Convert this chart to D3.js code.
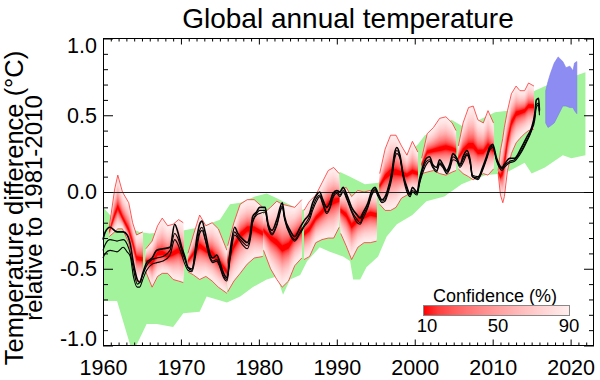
<!DOCTYPE html>
<html>
<head>
<meta charset="utf-8">
<script src="https://cdn.jsdelivr.net/npm/d3@7"></script>
<style>
  body { margin: 0; background: #fff; }
  svg text { font-family: "Liberation Sans", Arial, Helvetica, sans-serif; fill: #000; }
</style>
</head>
<body>
<svg id="chart"></svg>
<script>
  var width = 600;
  var height = 380;

  // observations (three datasets, smoothed)
  var obsYears = [1960.0, 1960.3, 1960.9, 1961.8, 1962.6, 1963.1, 1963.5, 1963.9, 1964.4, 1964.7,
    1965.1, 1965.6, 1966.3, 1966.9, 1967.7, 1968.6, 1969.2, 1969.6, 1970.1, 1970.5,
    1970.9, 1971.4, 1972.1, 1972.4, 1972.7, 1973.1, 1973.7, 1974.1, 1974.6, 1975.0,
    1975.4, 1975.9, 1976.3, 1976.9, 1977.3, 1978.0, 1978.5, 1978.9, 1979.2, 1979.7,
    1980.1, 1980.8, 1981.2, 1981.7, 1982.3, 1983.0, 1983.3, 1984.0, 1984.6, 1985.3,
    1985.9, 1986.5, 1986.9, 1987.4, 1987.8, 1988.2, 1988.7, 1989.1, 1989.5, 1990.0,
    1990.4, 1990.8, 1991.3, 1991.9, 1992.6, 1993.0, 1993.3, 1994.0, 1994.5, 1994.9,
    1995.3, 1995.8, 1996.2, 1996.5, 1997.1, 1997.4, 1997.7, 1998.1, 1998.5, 1999.0,
    1999.4, 1999.7, 2000.3, 2000.6, 2001.0, 2001.5, 2001.9, 2002.3, 2002.8, 2003.2,
    2003.6, 2004.1, 2004.5, 2004.9, 2005.4, 2005.8, 2006.2, 2006.7, 2007.1, 2007.4,
    2008.1, 2008.7, 2009.2, 2009.6, 2010.0, 2010.5, 2011.2, 2011.5, 2012.2, 2012.8,
    2013.7, 2014.4, 2015.0, 2015.4, 2015.6, 2015.9, 2016.0];
  var obsA = [-0.31, -0.26, -0.23, -0.26, -0.26, -0.28, -0.34, -0.46, -0.57, -0.59,
    -0.53, -0.46, -0.43, -0.38, -0.37, -0.36, -0.21, -0.26, -0.36, -0.42,
    -0.49, -0.51, -0.28, -0.21, -0.19, -0.26, -0.40, -0.43, -0.41, -0.46,
    -0.52, -0.56, -0.39, -0.23, -0.27, -0.31, -0.33, -0.27, -0.16, -0.13,
    -0.10, -0.10, -0.21, -0.25, -0.18, -0.07, -0.16, -0.25, -0.29, -0.23,
    -0.18, -0.14, -0.07, -0.02, 0.00, -0.05, -0.10, -0.07, -0.01, 0.01,
    0.00, 0.03, -0.02, -0.10, -0.15, -0.17, -0.14, -0.07, 0.01, 0.03,
    -0.01, -0.05, -0.03, 0.01, 0.14, 0.25, 0.29, 0.24, 0.12, 0.03,
    -0.01, 0.03, 0.00, 0.08, 0.16, 0.22, 0.23, 0.18, 0.16, 0.21,
    0.18, 0.14, 0.18, 0.25, 0.22, 0.18, 0.23, 0.27, 0.21, 0.10,
    0.09, 0.16, 0.23, 0.29, 0.31, 0.22, 0.16, 0.18, 0.22, 0.22,
    0.29, 0.36, 0.42, 0.51, 0.60, 0.61, 0.53];
  var obsB = [-0.38, -0.34, -0.31, -0.32, -0.31, -0.34, -0.40, -0.50, -0.60, -0.59,
    -0.54, -0.48, -0.44, -0.43, -0.42, -0.38, -0.27, -0.30, -0.38, -0.44,
    -0.49, -0.50, -0.32, -0.25, -0.23, -0.30, -0.42, -0.45, -0.44, -0.48,
    -0.54, -0.57, -0.42, -0.26, -0.29, -0.33, -0.35, -0.29, -0.19, -0.14,
    -0.12, -0.12, -0.22, -0.27, -0.21, -0.09, -0.17, -0.27, -0.31, -0.26,
    -0.21, -0.16, -0.10, -0.04, -0.02, -0.07, -0.13, -0.10, -0.03, 0.00,
    -0.02, 0.01, -0.04, -0.12, -0.18, -0.20, -0.16, -0.09, -0.01, 0.02,
    -0.02, -0.06, -0.05, 0.00, 0.12, 0.23, 0.27, 0.23, 0.11, 0.02,
    -0.02, 0.01, -0.01, 0.06, 0.14, 0.20, 0.21, 0.17, 0.14, 0.19,
    0.17, 0.13, 0.16, 0.23, 0.21, 0.17, 0.21, 0.25, 0.20, 0.11,
    0.10, 0.15, 0.22, 0.28, 0.30, 0.21, 0.15, 0.17, 0.20, 0.21,
    0.27, 0.34, 0.41, 0.49, 0.57, 0.58, 0.52];
  var obsC = [-0.43, -0.40, -0.38, -0.39, -0.36, -0.39, -0.42, -0.55, -0.62, -0.62,
    -0.57, -0.51, -0.47, -0.46, -0.45, -0.41, -0.31, -0.34, -0.41, -0.47,
    -0.51, -0.52, -0.35, -0.27, -0.25, -0.31, -0.43, -0.46, -0.45, -0.49,
    -0.55, -0.58, -0.44, -0.28, -0.30, -0.35, -0.37, -0.31, -0.20, -0.15,
    -0.14, -0.13, -0.23, -0.28, -0.22, -0.10, -0.18, -0.28, -0.32, -0.27,
    -0.22, -0.18, -0.12, -0.06, -0.03, -0.08, -0.14, -0.11, -0.04, -0.01,
    -0.03, 0.00, -0.05, -0.13, -0.20, -0.21, -0.18, -0.10, -0.02, 0.01,
    -0.03, -0.07, -0.06, -0.02, 0.10, 0.21, 0.25, 0.22, 0.10, 0.00,
    -0.03, 0.00, -0.02, 0.05, 0.12, 0.18, 0.20, 0.16, 0.13, 0.18,
    0.16, 0.12, 0.15, 0.21, 0.20, 0.16, 0.19, 0.24, 0.19, 0.10,
    0.08, 0.14, 0.21, 0.27, 0.29, 0.20, 0.14, 0.16, 0.19, 0.20,
    0.26, 0.33, 0.40, 0.47, 0.55, 0.57, 0.50];

  // green range (no-initialisation hindcasts)
  var greenTopYears = [1960.0, 1960.9, 1961.9, 1963.2, 1964.7, 1966.0, 1967.9, 1970.3, 1972.4, 1975.0,
    1976.3, 1977.6, 1979.5, 1981.0, 1982.3, 1984.6, 1985.3, 1986.5, 1987.4, 1989.1,
    1990.4, 1991.7, 1993.6, 1995.3, 1996.8, 1998.7, 2000.4, 2001.3, 2003.6, 2004.7,
    2006.4, 2008.3, 2010.3, 2011.9, 2013.5, 2015.4, 2017.6, 2019.6, 2021.9];
  var greenTop = [-0.10, -0.15, -0.19, -0.23, -0.26, -0.27, -0.26, -0.25, -0.23, -0.18,
    -0.08, -0.07, -0.03, -0.01, -0.04, -0.10, -0.12, -0.10, -0.03, 0.08,
    0.13, 0.10, 0.05, 0.06, 0.12, 0.24, 0.31, 0.37, 0.42, 0.47,
    0.42, 0.47, 0.52, 0.53, 0.60, 0.66, 0.71, 0.74, 0.78];
  var greenBotYears = [1960.0, 1961.8, 1963.8, 1965.6, 1966.9, 1969.0, 1970.3, 1972.4, 1973.3, 1975.9,
    1977.6, 1979.2, 1981.0, 1982.3, 1983.1, 1984.0, 1985.3, 1986.2, 1987.8, 1989.1,
    1990.8, 1991.7, 1992.1, 1993.0, 1993.8, 1995.3, 1996.4, 1997.7, 1999.7, 2001.5,
    2003.8, 2006.0, 2007.4, 2009.2, 2011.5, 2014.1, 2015.0, 2016.7, 2019.0, 2020.1, 2021.9];
  var greenBot = [-0.71, -0.71, -1.05, -0.86, -0.86, -0.88, -0.79, -0.78, -0.68, -0.72,
    -0.68, -0.62, -0.57, -0.55, -0.67, -0.57, -0.54, -0.45, -0.36, -0.39,
    -0.42, -0.45, -0.57, -0.57, -0.49, -0.42, -0.29, -0.21, -0.15, -0.06,
    -0.03, 0.05, 0.08, 0.11, 0.12, 0.19, 0.12, 0.16, 0.24, 0.22, 0.24];

  // initialised forecasts: 90% range (lo, hi) and central value (mid)
  var fc1960Years = [1960.8, 1961.5, 1961.9, 1962.5, 1963.3, 1963.8, 1964.3, 1965.1];
  var fc1960Hi = [-0.23, 0.02, 0.11, 0.00, -0.07, -0.20, -0.28, -0.26];
  var fc1960Mid = [-0.26, -0.15, -0.10, -0.17, -0.25, -0.33, -0.43, -0.44];
  var fc1960Lo = [-0.29, -0.26, -0.24, -0.24, -0.33, -0.46, -0.58, -0.58];

  var fc1965Years = [1965.5, 1966.3, 1967.0, 1967.6, 1968.3, 1969.0, 1969.7, 1970.3];
  var fc1965Hi = [-0.37, -0.32, -0.22, -0.17, -0.22, -0.21, -0.18, -0.20];
  var fc1965Mid = [-0.45, -0.46, -0.40, -0.40, -0.42, -0.40, -0.38, -0.41];
  var fc1965Lo = [-0.52, -0.62, -0.55, -0.53, -0.53, -0.57, -0.58, -0.59];

  var fc1970Years = [1970.9, 1971.6, 1972.4, 1973.2, 1974.0, 1974.8, 1975.9];
  var fc1970Hi = [-0.40, -0.28, -0.15, -0.22, -0.20, -0.24, -0.38];
  var fc1970Mid = [-0.45, -0.40, -0.35, -0.38, -0.40, -0.45, -0.52];
  var fc1970Lo = [-0.52, -0.54, -0.57, -0.55, -0.58, -0.62, -0.66];

  var fc1975Years = [1976.0, 1976.8, 1977.6, 1978.5, 1979.4, 1980.5];
  var fc1975Hi = [-0.35, -0.20, -0.08, -0.05, -0.05, -0.10];
  var fc1975Mid = [-0.45, -0.35, -0.28, -0.24, -0.24, -0.27];
  var fc1975Lo = [-0.65, -0.58, -0.53, -0.47, -0.43, -0.42];

  var fc1980Years = [1980.6, 1981.5, 1982.3, 1983.0, 1983.8, 1984.6, 1985.5];
  var fc1980Hi = [-0.14, -0.10, -0.06, -0.08, -0.09, -0.10, -0.05];
  var fc1980Mid = [-0.25, -0.30, -0.33, -0.37, -0.35, -0.29, -0.25];
  var fc1980Lo = [-0.38, -0.50, -0.57, -0.62, -0.58, -0.48, -0.43];

  var fc1985Years = [1985.8, 1986.5, 1987.3, 1988.1, 1988.9, 1989.6, 1990.3];
  var fc1985Hi = [-0.12, -0.06, -0.02, 0.06, 0.14, 0.16, 0.12];
  var fc1985Mid = [-0.27, -0.24, -0.17, -0.13, -0.08, -0.06, -0.05];
  var fc1985Lo = [-0.44, -0.42, -0.33, -0.31, -0.30, -0.30, -0.23];

  var fc1990Years = [1990.5, 1991.2, 1991.9, 1992.7, 1993.5, 1994.3, 1995.1];
  var fc1990Hi = [0.01, 0.03, -0.03, 0.01, 0.00, 0.01, 0.00];
  var fc1990Mid = [-0.12, -0.15, -0.22, -0.18, -0.16, -0.14, -0.15];
  var fc1990Lo = [-0.27, -0.35, -0.44, -0.36, -0.33, -0.33, -0.32];

  var fc1995Years = [1995.5, 1996.2, 1996.9, 1997.6, 1998.3, 1999.0, 1999.7, 2000.4];
  var fc1995Hi = [0.12, 0.28, 0.37, 0.37, 0.30, 0.24, 0.33, 0.26];
  var fc1995Mid = [0.04, 0.10, 0.13, 0.13, 0.12, 0.11, 0.13, 0.12];
  var fc1995Lo = [-0.08, -0.12, -0.12, -0.10, -0.04, -0.02, 0.00, 0.00];

  var fc2000Years = [2000.9, 2001.6, 2002.4, 2003.2, 2004.0, 2004.8, 2005.3];
  var fc2000Hi = [0.22, 0.38, 0.42, 0.48, 0.49, 0.45, 0.40];
  var fc2000Mid = [0.18, 0.26, 0.27, 0.28, 0.29, 0.28, 0.27];
  var fc2000Lo = [0.12, 0.13, 0.14, 0.12, 0.11, 0.13, 0.14];

  var fc2005Years = [2005.6, 2006.2, 2006.9, 2007.5, 2008.1, 2008.8, 2009.4, 2010.1];
  var fc2005Hi = [0.30, 0.45, 0.55, 0.56, 0.47, 0.45, 0.53, 0.45];
  var fc2005Mid = [0.22, 0.27, 0.30, 0.30, 0.26, 0.26, 0.30, 0.27];
  var fc2005Lo = [0.15, 0.12, 0.10, 0.08, 0.10, 0.12, 0.11, 0.15];

  var fc2010Years = [2010.7, 2011.0, 2011.3, 2011.5, 2011.9, 2012.4, 2013.0, 2013.5, 2014.1, 2014.6, 2015.3];
  var fc2010Hi = [0.14, 0.27, 0.35, 0.42, 0.53, 0.64, 0.69, 0.66, 0.66, 0.71, 0.69];
  var fc2010Mid = [0.13, 0.10, 0.13, 0.19, 0.33, 0.45, 0.51, 0.52, 0.53, 0.56, 0.56];
  var fc2010Lo = [0.12, -0.02, -0.07, -0.03, 0.14, 0.25, 0.32, 0.35, 0.38, 0.40, 0.41];

  // latest forecast range (blue)
  var blueYears = [2016.8, 2017.1, 2017.4, 2017.9, 2018.4, 2019.0, 2019.4, 2019.9, 2020.3, 2020.5, 2020.8];
  var blueHi = [0.66, 0.72, 0.77, 0.84, 0.88, 0.85, 0.81, 0.82, 0.79, 0.84, 0.85];
  var blueLo = [0.45, 0.42, 0.43, 0.45, 0.50, 0.56, 0.56, 0.55, 0.55, 0.53, 0.51];

  var yearTicks = [1960, 1970, 1980, 1990, 2000, 2010, 2020];
  var tempTicks = [-1.0, -0.5, 0.0, 0.5, 1.0];
  var confTicks = [10, 50, 90];

  var forecasts = [
    [fc1960Years, fc1960Lo, fc1960Mid, fc1960Hi],
    [fc1965Years, fc1965Lo, fc1965Mid, fc1965Hi],
    [fc1970Years, fc1970Lo, fc1970Mid, fc1970Hi],
    [fc1975Years, fc1975Lo, fc1975Mid, fc1975Hi],
    [fc1980Years, fc1980Lo, fc1980Mid, fc1980Hi],
    [fc1985Years, fc1985Lo, fc1985Mid, fc1985Hi],
    [fc1990Years, fc1990Lo, fc1990Mid, fc1990Hi],
    [fc1995Years, fc1995Lo, fc1995Mid, fc1995Hi],
    [fc2000Years, fc2000Lo, fc2000Mid, fc2000Hi],
    [fc2005Years, fc2005Lo, fc2005Mid, fc2005Hi],
    [fc2010Years, fc2010Lo, fc2010Mid, fc2010Hi]
  ].map(f => f[0].map((yr, i) => ({year: yr, lo: f[1][i], mid: f[2][i], hi: f[3][i]})));

  var svg = d3.select("#chart")
    .attr("width", width)
    .attr("height", height);

  var x = d3.scaleLinear().domain([1960, 2023]).range([103, 594]);
  var y = d3.scaleLinear().domain([-1, 1]).range([345.5, 38.5]);

  var confColor = d3.scaleLinear().domain([10, 90])
    .range(["#ff0000", "#ffeeee"])
    .interpolate(d3.interpolateRgb.gamma(1.7));

  // half width of a central c% interval of a normal, relative to the 90% one
  function erf(v) {
    var s = v < 0 ? -1 : 1;
    v = Math.abs(v);
    var t = 1 / (1 + 0.3275911 * v);
    var r = 1 - (((((1.061405429 * t - 1.453152027) * t) + 1.421413741) * t - 0.284496736) * t + 0.254829592) * t * Math.exp(-v * v);
    return s * r;
  }

  function zFor(c) {
    var a = 0, b = 6;
    for (var i = 0; i < 60; i++) {
      var m = (a + b) / 2;
      if (erf(m / Math.SQRT2) < c / 100) a = m; else b = m;
    }
    return (a + b) / 2;
  }
  var z90 = zFor(90);

  var defs = svg.append("defs");
  defs.append("clipPath").attr("id", "plotClip")
    .append("rect")
    .attr("x", x(1960)).attr("y", y(1))
    .attr("width", x(2023) - x(1960)).attr("height", y(-1) - y(1));

  var plot = svg.append("g").attr("clip-path", "url(#plotClip)");

  // green band
  var greenPts = greenTopYears.map((yr, i) => [yr, greenTop[i]])
    .concat(greenBotYears.map((yr, i) => [yr, greenBot[i]]).reverse());

  plot.append("path")
    .attr("d", d3.line().x(d => x(d[0])).y(d => y(d[1]))(greenPts) + "Z")
    .attr("fill", "#a2f39c")
    .attr("stroke", "none");

  // red forecasts shaded by confidence
  var levels = d3.range(90, 9, -2.5);

  forecasts.forEach(function(fc) {
    var g = plot.append("g");
    levels.forEach(function(c) {
      var f = zFor(c) / z90;
      g.append("path")
        .datum(fc)
        .attr("fill", confColor(c))
        .attr("d", d3.area()
          .x(d => x(d.year))
          .y0(d => y(d.mid - f * (d.mid - d.lo)))
          .y1(d => y(d.mid + f * (d.hi - d.mid))));
    });
    ["hi", "lo"].forEach(function(k) {
      g.append("path")
        .datum(fc)
        .attr("fill", "none")
        .attr("stroke", "#ff3030")
        .attr("stroke-width", 0.8)
        .attr("d", d3.line().x(d => x(d.year)).y(d => y(d[k])));
    });
  });

  // blue forecast range
  plot.append("path")
    .datum(blueYears.map((yr, i) => ({year: yr, lo: blueLo[i], hi: blueHi[i]})))
    .attr("fill", "#8c8cf3")
    .attr("stroke", "#7c7cee")
    .attr("stroke-width", 0.6)
    .attr("d", d3.area().x(d => x(d.year)).y0(d => y(d.lo)).y1(d => y(d.hi)));

  // zero line
  svg.append("line")
    .attr("x1", x(1960)).attr("x2", x(2023))
    .attr("y1", y(0) + 0.5).attr("y2", y(0) + 0.5)
    .attr("stroke", "#222")
    .attr("stroke-width", 1);

  // observations
  var obsLine = d3.line()
    .x((d, i) => x(obsYears[i]))
    .y(d => y(d))
    .curve(d3.curveMonotoneX);

  [[obsC, 1.1], [obsB, 1.1], [obsA, 1.6]].forEach(function(s) {
    svg.append("path")
      .attr("d", obsLine(s[0]))
      .attr("fill", "none")
      .attr("stroke", "#000")
      .attr("stroke-width", s[1]);
  });

  // axes: ticks point inward on all four sides
  var minorYears = d3.range(1961, 2023).filter(d => d % 10 != 0);
  var minorTemps = d3.range(-9, 10).map(d => d / 10).filter(d => Math.abs(d) != 0.5 && d != 0);

  function clean(g) {
    g.select(".domain").remove();
    g.selectAll("line").attr("stroke", "#000");
  }

  svg.append("g")
    .attr("transform", "translate(0," + y(-1) + ")")
    .call(d3.axisBottom(x).tickValues(yearTicks).tickSize(-6).tickPadding(14).tickFormat(d3.format("d")))
    .call(clean)
    .selectAll("text")
    .style("font-size", "21.5px");

  svg.append("g")
    .attr("transform", "translate(0," + y(-1) + ")")
    .call(d3.axisBottom(x).tickValues(minorYears).tickSize(-3).tickFormat(""))
    .call(clean);

  svg.append("g")
    .attr("transform", "translate(0," + y(1) + ")")
    .call(d3.axisTop(x).tickValues(yearTicks).tickSize(-6).tickFormat(""))
    .call(clean);

  svg.append("g")
    .attr("transform", "translate(0," + y(1) + ")")
    .call(d3.axisTop(x).tickValues(minorYears).tickSize(-3).tickFormat(""))
    .call(clean);

  svg.append("g")
    .attr("transform", "translate(" + x(1960) + ",0)")
    .call(d3.axisLeft(y).tickValues(tempTicks).tickSize(-10).tickPadding(6).tickFormat(d => d.toFixed(1)))
    .call(clean)
    .selectAll("text")
    .style("font-size", "21.5px")
    .attr("dy", d => d == 1 ? "0.66em" : d == -1 ? "-0.02em" : "0.32em");

  svg.append("g")
    .attr("transform", "translate(" + x(1960) + ",0)")
    .call(d3.axisLeft(y).tickValues(minorTemps).tickSize(-5).tickFormat(""))
    .call(clean);

  svg.append("g")
    .attr("transform", "translate(" + x(2023) + ",0)")
    .call(d3.axisRight(y).tickValues(tempTicks).tickSize(-10).tickFormat(""))
    .call(clean);

  svg.append("g")
    .attr("transform", "translate(" + x(2023) + ",0)")
    .call(d3.axisRight(y).tickValues(minorTemps).tickSize(-5).tickFormat(""))
    .call(clean);

  svg.append("rect")
    .attr("x", x(1960) + 0.5).attr("y", y(1))
    .attr("width", x(2023) - x(1960) - 1).attr("height", y(-1) - y(1))
    .attr("fill", "none")
    .attr("stroke", "#000")
    .attr("stroke-width", 1);

  // title and axis label
  svg.append("text")
    .attr("x", 348)
    .attr("y", 28)
    .attr("text-anchor", "middle")
    .style("font-size", "28px")
    .text("Global annual temperature");

  var ylab = svg.append("g")
    .attr("transform", "translate(0,208) rotate(-90)");

  ylab.append("text")
    .attr("y", 23)
    .attr("text-anchor", "middle")
    .style("font-size", "25.5px")
    .text("Temperature difference (°C)");

  ylab.append("text")
    .attr("y", 42)
    .attr("text-anchor", "middle")
    .style("font-size", "24px")
    .text("relative to 1981-2010");

  // confidence colour bar
  var grad = defs.append("linearGradient").attr("id", "confGrad");
  d3.range(0, 1.01, 0.1).forEach(t =>
    grad.append("stop")
      .attr("offset", t)
      .attr("stop-color", confColor(10 + t * 80))
  );

  var legX = d3.scaleLinear().domain([10, 90]).range([427, 569]);

  svg.append("text")
    .attr("x", 495)
    .attr("y", 302)
    .attr("text-anchor", "middle")
    .style("font-size", "18px")
    .text("Confidence (%)");

  svg.append("rect")
    .attr("x", 423.5).attr("y", 305.5)
    .attr("width", 146).attr("height", 10)
    .attr("fill", "url(#confGrad)")
    .attr("stroke", "#888")
    .attr("stroke-width", 1);

  svg.selectAll(".confLabel")
    .data(confTicks)
    .enter()
    .append("text")
    .attr("class", "confLabel")
    .attr("x", d => legX(d))
    .attr("y", 332)
    .attr("text-anchor", "middle")
    .style("font-size", "18.5px")
    .text(d => d);
</script>
</body>
</html>
